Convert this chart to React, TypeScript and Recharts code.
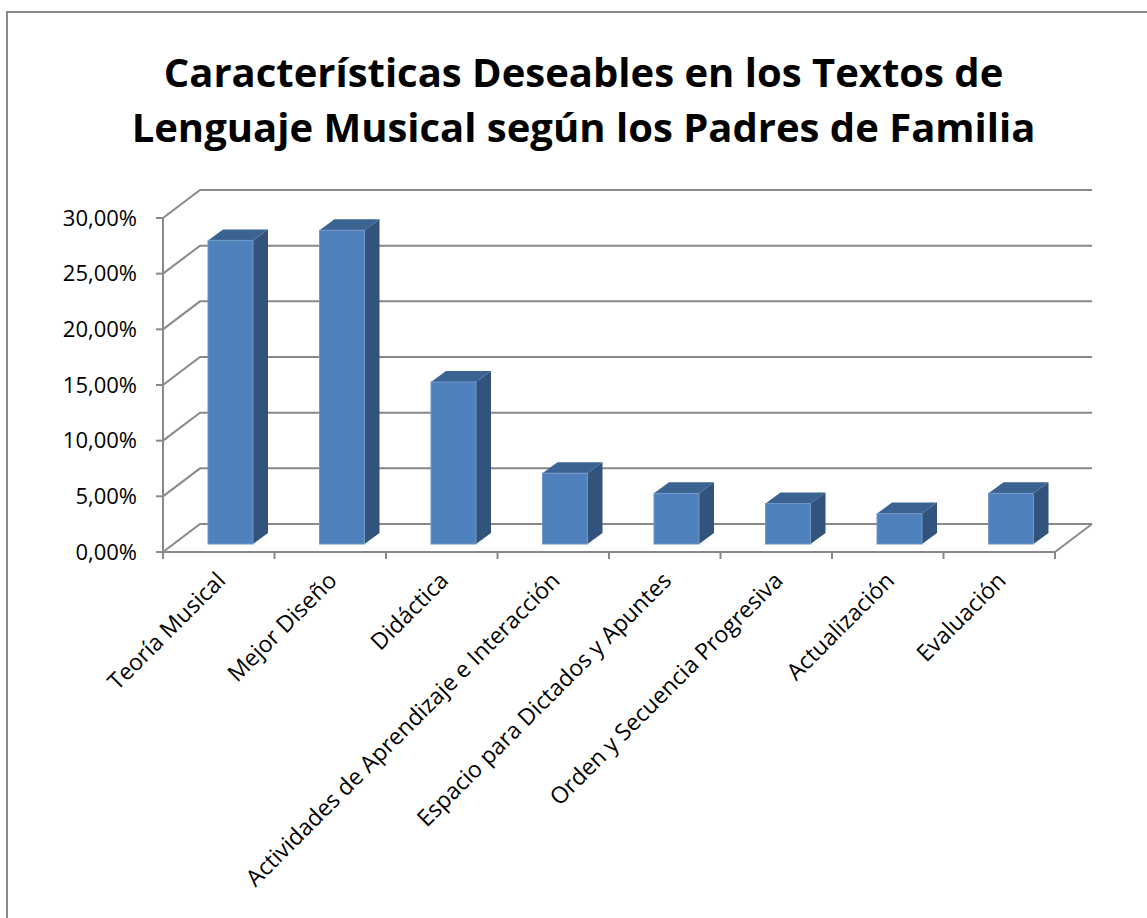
import React from "react";
import { BarChart, Bar, XAxis, YAxis, CartesianGrid } from "recharts";

const categories = [
  "Teoría Musical",
  "Mejor Diseño",
  "Didáctica",
  "Actividades de Aprendizaje e Interacción",
  "Espacio para Dictados y Apuntes",
  "Orden y Secuencia Progresiva",
  "Actualización",
  "Evaluación",
];
const values = [0.2727, 0.2818, 0.1455, 0.0636, 0.0455, 0.0364, 0.0273, 0.0455];
const yTicks = [0, 0.05, 0.1, 0.15, 0.2, 0.25, 0.3];

const data = categories.map((name, i) => ({ name, value: values[i] }));

// depth of the 3D box (back wall offset)
const DX = 37;
const DY = 28;
const GRID = "#898989";
const FONT = "'Open Sans', sans-serif";

const pct = (v: number) => (v * 100).toFixed(2).replace(".", ",") + "%";

const GridLine = (props: any) => {
  const { x1, y1, x2, y, height, index } = props;
  const isFloor =
    typeof y === "number" && typeof height === "number"
      ? Math.abs(y1 - (y + height)) < 1
      : index === 0;
  let d = `M${x1},${y1} L${x1 + DX},${y1 - DY} L${x2 + DX},${y1 - DY}`;
  if (isFloor) d += ` M${x2},${y1} L${x2 + DX},${y1 - DY}`;
  return <path key={`g-${index}`} d={d} stroke={GRID} strokeWidth={2} fill="none" />;
};

// 3D bar: front face sits a little into the box, with top and side faces
const Box3D = (props: any) => {
  const { x, y, width, height } = props;
  if (!height) return null;
  const fx = x + 12;
  const fy = y - 8;
  const d = 15;
  const e = 11;
  return (
    <g>
      <path
        d={`M${fx + width},${fy} L${fx + width + d},${fy - e} L${fx + width + d},${fy + height - e} L${fx + width},${fy + height} Z`}
        fill="#31537C"
      />
      <path
        d={`M${fx},${fy} L${fx + d},${fy - e} L${fx + width + d},${fy - e} L${fx + width},${fy} Z`}
        fill="#3B6392"
      />
      <rect x={fx} y={fy} width={width} height={height} fill="#4F81BD" stroke="#6F97C8" strokeWidth={1} />
    </g>
  );
};

const XTick = (props: any) => {
  const { x, y, payload, index } = props;
  const off = payload?.offset ?? 0;
  return (
    <g>
      {index === 0 && <line x1={x - off} y1={y} x2={x - off} y2={y + 7} stroke={GRID} strokeWidth={2} />}
      <line x1={x + off} y1={y} x2={x + off} y2={y + 7} stroke={GRID} strokeWidth={2} />
      <text
        x={0}
        y={0}
        transform={`translate(${x + 8},${y + 30}) rotate(-45)`}
        textAnchor="end"
        fontFamily={FONT}
        fontSize={23}
        fill="#000"
      >
        {payload.value}
      </text>
    </g>
  );
};

export default function App() {
  return (
    <div
      style={{
        position: "absolute",
        left: 0,
        top: 0,
        width: 1147,
        height: 918,
        overflow: "hidden",
        background: "#fff",
      }}
    >
      <div
        style={{
          position: "absolute",
          left: 6,
          top: 11,
          width: 1300,
          height: 1100,
          border: "2px solid #8a8a8a",
        }}
      />
      <div
        style={{
          position: "absolute",
          left: 0,
          top: 44,
          width: 1167,
          textAlign: "center",
          fontFamily: FONT,
          fontWeight: 700,
          fontSize: 40,
          lineHeight: "55px",
          color: "#000",
        }}
      >
        Características Deseables en los Textos de
        <br />
        Lenguaje Musical según los Padres de Familia
      </div>
      <div style={{ position: "absolute", left: 0, top: 0 }}>
        <BarChart
          width={1147}
          height={918}
          data={data}
          margin={{ top: 218, right: 92, bottom: 66, left: 0 }}
          barSize={45}
        >
          <CartesianGrid vertical={false} horizontal={GridLine} />
          <XAxis
            dataKey="name"
            interval={0}
            height={300}
            axisLine={{ stroke: GRID, strokeWidth: 2 }}
            tickLine={false}
            tickSize={0}
            tickMargin={0}
            tick={<XTick />}
          />
          <YAxis
            domain={[0, 0.3]}
            ticks={yTicks}
            width={163}
            tickFormatter={pct}
            axisLine={{ stroke: GRID, strokeWidth: 2 }}
            tickLine={{ stroke: GRID, strokeWidth: 2 }}
            tickSize={7}
            tickMargin={19}
            tick={{ fill: "#000", fontSize: 22, fontFamily: FONT }}
          />
          <Bar dataKey="value" shape={<Box3D />} isAnimationActive={false} />
        </BarChart>
      </div>
    </div>
  );
}
